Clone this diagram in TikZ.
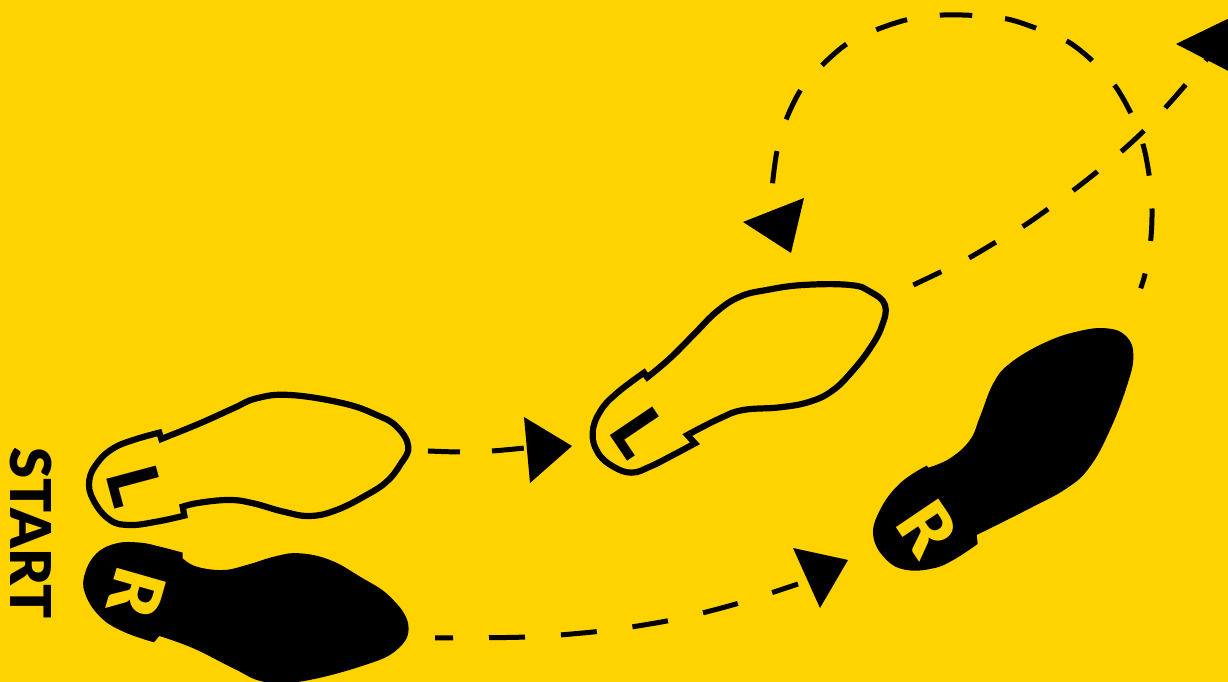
\documentclass[tikz,border=0pt]{standalone}
\usepackage{fontspec}
\setmainfont{Lato}[BoldFont={Lato Black}]
\definecolor{floor}{HTML}{FFD300}

\begin{document}
\begin{tikzpicture}[
    x=0.1mm, y=-0.1mm,
    % --- styles ---
    outlinefoot/.style = {draw=black, line width=0.62mm, miter limit=4},
    solidfoot/.style = {fill=black},
    footletter/.style = {font=\fontsize{20}{20}\selectfont\bfseries, inner sep=0pt},
    startletter/.style = {font=\fontsize{16}{16}\selectfont\bfseries, inner sep=0pt},
    walkline/.style = {draw=black, line width=0.5mm},
    walktip/.style = {fill=black},
]
\clip (0,0) rectangle (1228,682);
\fill[floor] (0,0) rectangle (1228,682);

%============ START FEET ============
\begin{scope}[shift={(0,380)}, scale=1/3]
  \draw[outlinefoot] plot[smooth, tension=0.7] coordinates {
      (484,177) (600,130) (700,85) (770,55) (870,45) (1030,70) (1130,105)
      (1190,140) (1225,200) (1200,255) (1160,305) (1100,345) (1010,390)
      (930,408) (850,395) (760,370) (690,360) (600,368) (548,380)}
    -- plot[smooth, tension=0.7] coordinates {
      (553,407) (470,425) (390,435) (330,420) (280,360) (268,300) (295,245)
      (340,205) (400,180) (478,158)} -- cycle;
  \fill[solidfoot] plot[smooth, tension=0.7] coordinates {
      (548,535) (590,560) (670,570) (740,555) (830,528) (900,520) (990,540)
      (1080,590) (1170,650) (1225,735) (1190,810) (1080,860) (900,905)
      (790,905) (700,865) (580,805) (478,768)}
    -- plot[smooth, tension=0.7] coordinates {
      (462,787) (370,755) (300,710) (255,640) (255,580) (290,520) (350,490)
      (420,488) (480,500) (548,518)} -- cycle;
\end{scope}

\node (startlabel) [startletter, rotate=-90] at (31,533) {START};
\node (leftone) [footletter, rotate=-75] at (135,486) {L};
\node (rightone) [footletter, text=floor, rotate=-106] at (137,593) {R};

%============ SECOND LEFT FOOT ============
\begin{scope}[shift={(570,270)}, scale=1/3]
  \draw[outlinefoot] plot[smooth, tension=0.7] coordinates {
      (232,322) (300,265) (370,195) (440,125) (510,80) (590,60) (700,45)
      (840,45) (900,65) (945,105) (935,170) (900,235) (850,300) (790,360)
      (720,395) (630,412) (520,420) (450,445) (352,495)}
    -- plot[smooth, tension=0.7] coordinates {
      (375,520) (300,560) (240,590) (185,608) (130,590) (85,550) (68,490)
      (90,425) (140,370) (222,308)} -- cycle;
\end{scope}

\node (lefttwo) [footletter, rotate=-56] at (639,432) {L};

%============ SECOND RIGHT FOOT ============
\begin{scope}[shift={(860,320)}, scale=1/3]
  \fill[solidfoot] plot[smooth, tension=0.7] coordinates {
      (205,443) (270,415) (330,360) (360,290) (400,190) (450,130) (550,70)
      (650,35) (740,25) (800,50) (820,110) (800,200) (750,330) (690,440)
      (620,505) (500,570) (350,645)}
    -- plot[smooth, tension=0.7] coordinates {
      (353,672) (280,720) (220,745) (140,750) (80,720) (40,650) (60,570)
      (120,490) (200,437)} -- cycle;
\end{scope}

\node (righttwo) [footletter, text=floor, rotate=-56] at (928,528) {R};

%============ WALKING LINES ============
\draw[walkline, dash pattern=on 3.2mm off 3.2mm] plot[smooth] coordinates {
    (428,451) (460,452) (492,451) (525,448)};
\draw[walkline, dash pattern=on 3.6mm off 3.6mm, dash phase=1.8mm] plot[smooth] coordinates {
    (435,638) (527,637) (602,631) (672,620) (736,604) (798,584)};

\begin{scope}[shift={(730,0)}, scale=1/3]
  \draw[walkline, dash pattern=on 3.25mm off 3.3mm, dash phase=1.7mm] plot[smooth] coordinates {
      (1232,865) (1245,822) (1262,722) (1266,628) (1258,530) (1240,437)
      (1205,345) (1157,260) (1092,187) (1017,127) (927,88) (836,58)
      (738,47) (640,45) (540,57) (445,87) (353,130) (277,195) (212,270)
      (168,360) (140,458) (127,556)};
  \draw[walkline, dash pattern=on 3.1mm off 3.1mm] plot[smooth] coordinates {
      (550,855) (632,816) (715,775) (795,728) (875,682) (950,630) (1025,575)
      (1098,518) (1168,460) (1237,397) (1300,330) (1362,260) (1432,175)};
\end{scope}

%============ TIPS ============
\fill[walktip] (524,417) -- (572,446) -- (530,483) -- cycle;
\fill[walktip] (793,548) -- (848,560) -- (820,608) -- cycle;
\fill[walktip] (804,198) -- (743,222) -- (791,253) -- cycle;
\fill[walktip] (1176,44) -- (1240,13) -- (1240,77) -- cycle;

\end{tikzpicture}
\end{document}
